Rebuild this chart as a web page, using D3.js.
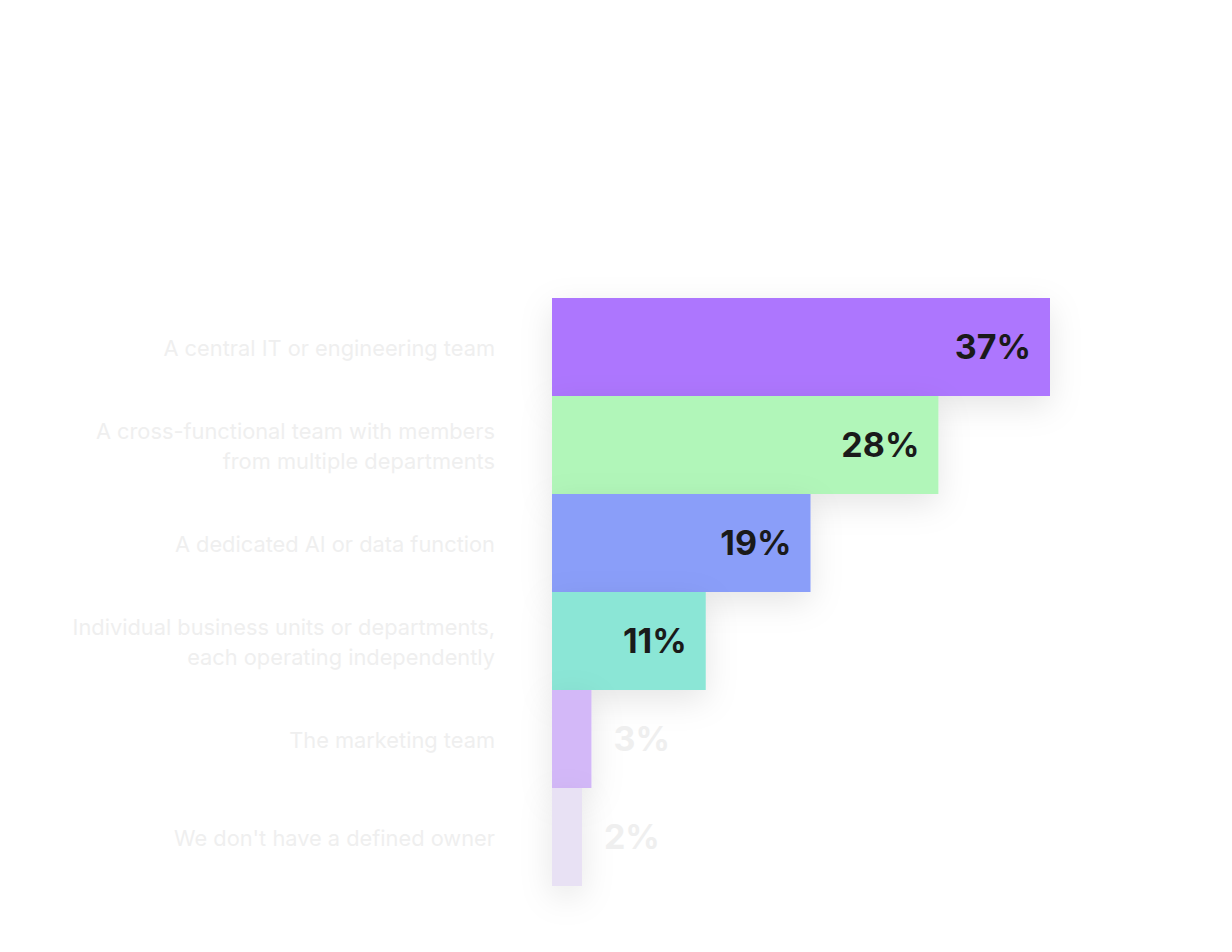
<!DOCTYPE html>
<html>
<head>
<meta charset="utf-8">
<script src="https://cdn.jsdelivr.net/npm/d3@7"></script>
<style>
  html, body { margin: 0; padding: 0; background: #fff; }
  svg { display: block; font-family: Inter, "Noto Sans", sans-serif; }
</style>
</head>
<body>
<svg id="chart" width="1232" height="952"></svg>
<script>
const categories = [
  ["A central IT or engineering team"],
  ["A cross-functional team with members", "from multiple departments"],
  ["A dedicated AI or data function"],
  ["Individual business units or departments,", "each operating independently"],
  ["The marketing team"],
  ["We don't have a defined owner"]
];
// shares in %, labels show them rounded
const values = [36.6, 28.4, 19.0, 11.3, 2.9, 2.2];
const colors = ["#ad76fe", "#b1f6b9", "#8a9ef9", "#8be6d6", "#d3b8f8", "#e8e1f4"];

const svg = d3.select("#chart");
const barLeft = 552, barTop = 298, barH = 98;

const x = d3.scaleLinear().domain([0, 36.6]).range([0, 498]);
const y = d3.scaleBand().domain(d3.range(values.length)).range([barTop, barTop + barH * values.length]).padding(0);

const defs = svg.append("defs");
defs.append("filter")
  .attr("id", "shadow")
  .attr("filterUnits", "userSpaceOnUse")
  .attr("x", 400).attr("y", 200).attr("width", 800).attr("height", 800)
  .append("feDropShadow")
  .attr("dx", 0).attr("dy", 10)
  .attr("stdDeviation", 16)
  .attr("flood-color", "#000")
  .attr("flood-opacity", 0.1);

const rows = svg.selectAll(".row")
  .data(values)
  .join("g")
  .attr("class", "row");

rows.append("rect")
  .attr("x", barLeft)
  .attr("y", (d, i) => y(i))
  .attr("width", d => x(d))
  .attr("height", y.bandwidth())
  .attr("fill", (d, i) => colors[i])
  .attr("filter", "url(#shadow)");

// value labels: inside for wide bars, outside (faded) for thin ones
rows.append("text")
  .attr("x", d => x(d) > 100 ? barLeft + x(d) - 19 : barLeft + x(d) + 22)
  .attr("y", (d, i) => y(i) + y.bandwidth() / 2)
  .attr("dy", "0.36em")
  .attr("text-anchor", d => x(d) > 100 ? "end" : "start")
  .attr("font-size", 34)
  .attr("font-weight", 700)
  .attr("fill", d => x(d) > 100 ? "#1a1a1a" : "#efefef")
  .text(d => Math.round(d) + "%");

// category labels
const lineH = 30;
const labels = svg.selectAll(".cat")
  .data(categories)
  .join("text")
  .attr("class", "cat")
  .attr("text-anchor", "end")
  .attr("font-size", 21.8)
  .attr("fill", "#efefef");

labels.selectAll("tspan")
  .data((d, i) => d.map((t, j) => ({ t, j, n: d.length, i })))
  .join("tspan")
  .attr("x", 495)
  .attr("y", d => y(d.i) + y.bandwidth() / 2 + (d.j - (d.n - 1) / 2) * lineH)
  .attr("dy", "0.4em")
  .text(d => d.t);
</script>
</body>
</html>
